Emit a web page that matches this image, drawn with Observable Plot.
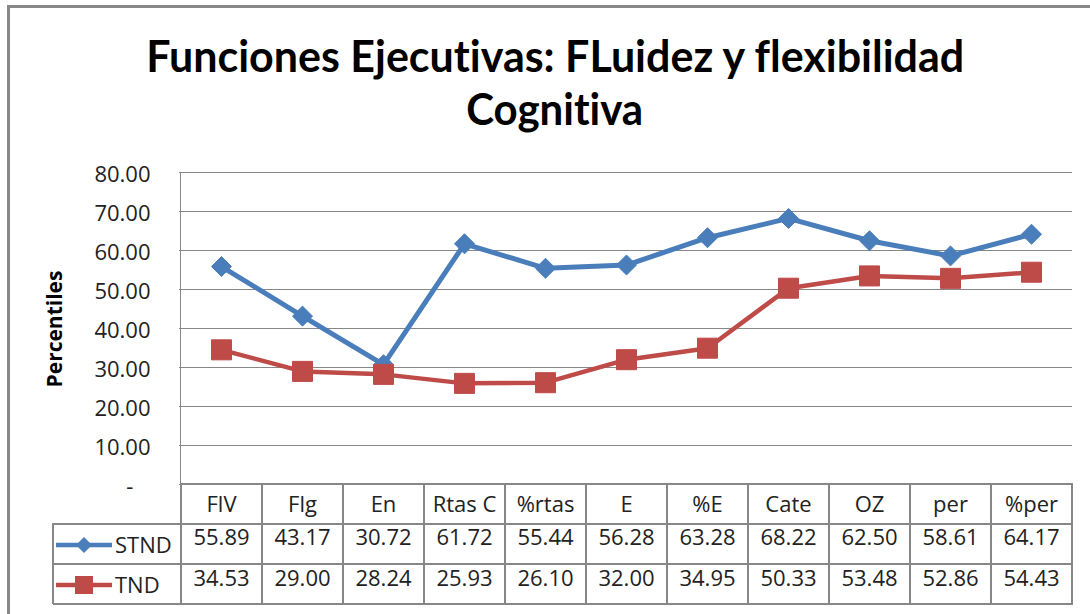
<!DOCTYPE html>
<html><head><meta charset="utf-8">
<script src="https://cdn.jsdelivr.net/npm/d3@7"></script>
<script src="https://cdn.jsdelivr.net/npm/@observablehq/plot@0.6"></script>
<style>
html,body{margin:0;padding:0;background:#fff;}
body{width:1090px;height:614px;overflow:hidden;position:relative;font-family:"Open Sans",sans-serif;}
#frame{position:absolute;left:7px;top:5px;width:1300px;height:900px;border-top:3px solid #878787;border-left:3px solid #878787;}
#title{position:absolute;left:0;top:0;width:1090px;height:150px;}
.tl{position:absolute;white-space:nowrap;font-family:Lato,sans-serif;font-weight:700;font-size:43px;line-height:53px;color:#000;transform-origin:50% 50%;font-variant-ligatures:none;font-feature-settings:"liga" 0,"dlig" 0;}
#chart{position:absolute;left:0;top:150px;}
.ln{position:absolute;background:#878787;}
#ylabel{position:absolute;left:54px;top:329px;transform:translate(-50%,-50%) rotate(-90deg);white-space:nowrap;font-weight:700;font-size:21px;color:#000;}
.leg{position:absolute;font-size:22px;color:#222;white-space:nowrap;line-height:40px;height:40px;}
.leg svg{vertical-align:middle;margin-right:3px;position:relative;top:-2px;}
</style>
</head><body>
<div id="frame"></div>
<div id="title"></div>
<div id="ylabel"></div>
<div id="chart"></div>
<script>
const titleLines = ["Funciones Ejecutivas: FLuidez y flexibilidad", "Cognitiva"];
const yLabel = "Percentiles";
const categories = ["FlV","Flg","En","Rtas C","%rtas","E","%E","Cate","OZ","per","%per"];
const seriesNames = ["STND","TND"];
const stnd = [55.89,43.17,30.72,61.72,55.44,56.28,63.28,68.22,62.50,58.61,64.17];
const tnd  = [34.53,29.00,28.24,25.93,26.10,32.00,34.95,50.33,53.48,52.86,54.43];
const yTicks = [0,10,20,30,40,50,60,70,80];

const colors = {STND: "#4a7ebb", TND: "#be4b48"};
const rows = categories.map((c, i) => ({cat: c, STND: stnd[i], TND: tnd[i]}));

// title
const titleCenter = 555, titleBaselines = [72, 125], titleTargetW = [818, 177];
const tdiv = document.getElementById("title");
titleLines.forEach((t, i) => {
  const s = document.createElement("div");
  s.className = "tl";
  s.textContent = t;
  tdiv.appendChild(s);
  const w = s.getBoundingClientRect().width;
  s.style.left = (titleCenter - w / 2) + "px";
  s.style.top = (titleBaselines[i] - 43.1) + "px";
  s.style.transform = `scaleX(${titleTargetW[i] / w})`;
});
document.getElementById("ylabel").textContent = yLabel;

const diamond = {draw(ctx, size) {
  const h = Math.sqrt(size / 2);
  ctx.moveTo(0, -h); ctx.lineTo(h, 0); ctx.lineTo(0, h); ctx.lineTo(-h, 0); ctx.closePath();
}};
const fmt = d => d === 0 ? "-\u00a0\u00a0\u00a0" : d.toFixed(2);

const chart = Plot.plot({
  width: 1090, height: 464,
  marginTop: 22, marginBottom: 130, marginLeft: 179, marginRight: 18,
  style: {fontFamily: "'Open Sans', sans-serif", fontSize: "22px", color: "#222", background: "transparent", overflow: "visible"},
  x: {type: "point", domain: categories, padding: 0.5, axis: null},
  y: {domain: [0, 80], axis: null},
  marks: [
    Plot.gridY(yTicks, {stroke: "#878787", strokeOpacity: 1, strokeWidth: 1}),
    Plot.axisY(yTicks, {tickSize: 0, tickPadding: 29, tickFormat: fmt, fontSize: 22, dy: 2, label: null}),
    Plot.axisX(categories, {tickSize: 0, tickPadding: 12, fontSize: 22, label: null}),
    Plot.text(rows, {x: "cat", text: d => d.STND.toFixed(2), frameAnchor: "bottom", dy: 60, fontSize: 22}),
    Plot.text(rows, {x: "cat", text: d => d.TND.toFixed(2), frameAnchor: "bottom", dy: 101, fontSize: 22}),
    Plot.line(rows, {x: "cat", y: "STND", stroke: colors.STND, strokeWidth: 5}),
    Plot.dot(rows, {x: "cat", y: "STND", symbol: diamond, r: 8, fill: colors.STND, stroke: colors.STND, strokeWidth: 1}),
    Plot.line(rows, {x: "cat", y: "TND", stroke: colors.TND, strokeWidth: 4.5}),
    Plot.dot(rows, {x: "cat", y: "TND", symbol: "square", r: 11.3, fill: colors.TND, stroke: colors.TND, strokeWidth: 1})
  ]
});
document.getElementById("chart").appendChild(chart);

// table grid derived from scales
const sx = chart.scale("x"), sy = chart.scale("y");
const step = sx.apply(categories[1]) - sx.apply(categories[0]);
const left = sx.apply(categories[0]) - step / 2;
const right = left + step * categories.length;
const svgTop = 150;
const top0 = sy.apply(80) + svgTop, bottom0 = sy.apply(0) + svgTop;
const rowH = 40, legLeft = 53, lw = 2;
function line(x, y, w, h) {
  const d = document.createElement("div");
  d.className = "ln";
  Object.assign(d.style, {left: x + "px", top: y + "px", width: w + "px", height: h + "px"});
  document.body.appendChild(d);
}
// axis line
line(left - 0.5, top0, 1, bottom0 - top0);
// horizontal table lines
line(left, bottom0 - 1, right - left + 1, lw);
for (let r = 1; r <= 3; r++) line(legLeft, bottom0 + r * rowH - 1, right - legLeft + 1, lw);
// vertical table lines
for (let k = 0; k <= categories.length; k++) line(left + k * step - 1, bottom0 - 1, lw, 3 * rowH + 1);
line(legLeft - 1, bottom0 + rowH - 1, lw, 2 * rowH + 1);

// legend cells
seriesNames.forEach((name, i) => {
  const d = document.createElement("div");
  d.className = "leg";
  d.style.left = (legLeft + 3) + "px";
  d.style.top = (bottom0 + (i + 1) * rowH) + "px";
  const c = colors[name];
  const sym = name === "STND"
    ? `<polygon points="28,1 36,9 28,17 20,9" fill="${c}"/>`
    : `<rect x="19" y="0" width="18" height="18" fill="${c}"/>`;
  d.innerHTML = `<svg width="56" height="18"><line x1="0" x2="56" y1="9" y2="9" stroke="${c}" stroke-width="4.5"/>${sym}</svg>${name}`;
  document.body.appendChild(d);
});
</script>
</body></html>
